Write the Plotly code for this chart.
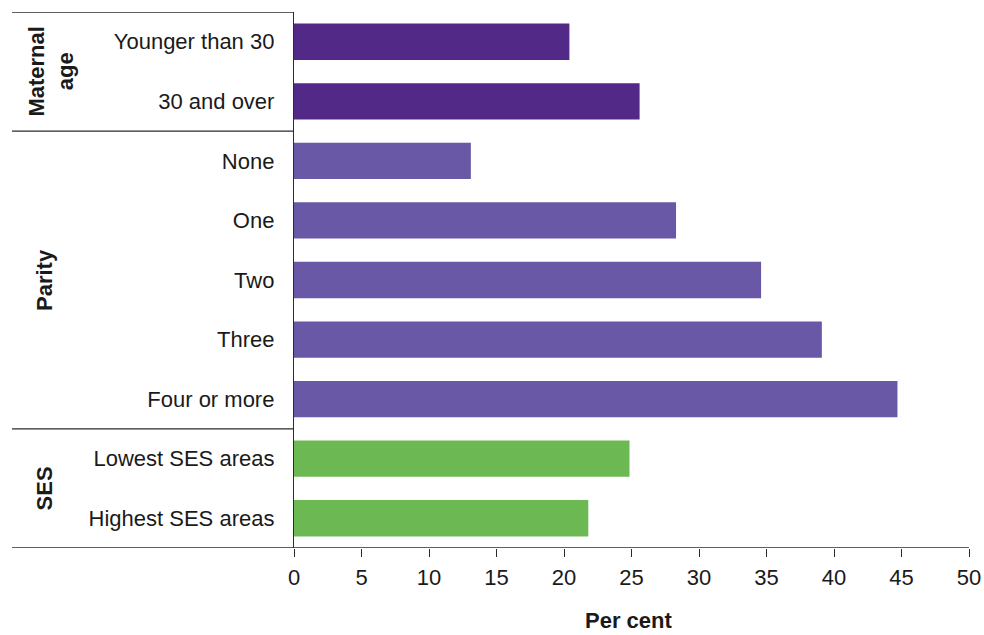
import plotly.graph_objects as go

categories = ["Younger than 30", "30 and over", "None", "One", "Two", "Three",
              "Four or more", "Lowest SES areas", "Highest SES areas"]
values = [20.4, 25.6, 13.1, 28.3, 34.6, 39.1, 44.7, 24.85, 21.8]
groups = ["Maternal age", "Maternal age", "Parity", "Parity", "Parity", "Parity",
          "Parity", "SES", "SES"]
group_colors = {"Maternal age": "#532987", "Parity": "#6958A5", "SES": "#6CB954"}
group_labels = {"Maternal age": "Maternal<br>age", "Parity": "Parity", "SES": "SES"}
x_ticks = [0, 5, 10, 15, 20, 25, 30, 35, 40, 45, 50]
x_title = "Per cent"

colors = [group_colors[g] for g in groups]

fig = go.Figure(go.Bar(
    x=values, y=categories, orientation="h",
    marker=dict(color=colors, line=dict(width=0)),
    width=0.61,
))

FONT = "Liberation Sans, Arial, sans-serif"
FS = 22
TXT = "#1a1a1a"
W, H = 984, 635
plot_left, plot_right = 294, 969
plot_top, plot_bottom = 12, 548
pw = plot_right - plot_left
ph = plot_bottom - plot_top

def px_to_paper_x(px):
    return (px - plot_left) / pw

def px_to_paper_y(py):
    return (plot_bottom - py) / ph

shapes = []
order = list(dict.fromkeys(groups))
bounds = [-0.5]
for g in order:
    idx = [i for i, gg in enumerate(groups) if gg == g]
    bounds.append(idx[-1] + 0.5)
for b in bounds:
    x1 = 1.0 if b == bounds[-1] else 0
    shapes.append(dict(type="line", xref="paper", yref="y",
                       x0=px_to_paper_x(12), x1=x1, y0=b, y1=b,
                       line=dict(color="#2b2b2b", width=1.3)))

label_x = {"Maternal age": 51, "Parity": 44, "SES": 44}
annotations = []
for g in order:
    idx = [i for i, gg in enumerate(groups) if gg == g]
    mid = (idx[0] + idx[-1]) / 2
    annotations.append(dict(
        text="<b>" + group_labels[g] + "</b>", xref="paper", yref="y",
        x=px_to_paper_x(label_x[g]), y=mid, textangle=-90, showarrow=False,
        font=dict(family=FONT, size=FS, color=TXT),
        xanchor="center", yanchor="middle"))

annotations.append(dict(
    text="<b>" + x_title + "</b>", xref="paper", yref="paper",
    x=px_to_paper_x(628), y=px_to_paper_y(620), showarrow=False,
    font=dict(family=FONT, size=FS, color=TXT),
    xanchor="center", yanchor="middle"))

fig.update_layout(
    width=W, height=H,
    margin=dict(l=plot_left, r=W - plot_right, t=plot_top, b=H - plot_bottom, pad=0),
    paper_bgcolor="white", plot_bgcolor="white",
    showlegend=False,
    shapes=shapes, annotations=annotations,
    xaxis=dict(range=[0, 50], tickvals=x_ticks, ticks="outside", ticklen=8,
               tickcolor="#2b2b2b", tickwidth=1.3, showgrid=False, zeroline=False,
               showline=False, ticklabelstandoff=2, automargin=False,
               tickfont=dict(family=FONT, size=FS, color=TXT)),
    yaxis=dict(categoryorder="array", categoryarray=categories,
               showline=True, linecolor="#2b2b2b", linewidth=1.3,
               showgrid=False, ticks="", ticklabelstandoff=14, automargin=False,
               tickfont=dict(family=FONT, size=FS, color=TXT)),
)
fig.update_yaxes(autorange=False, range=[8.5, -0.5])

fig.write_html("out.html",
               config={"displayModeBar": False},
               post_script="document.body.style.margin='0';document.body.style.overflow='hidden';")
